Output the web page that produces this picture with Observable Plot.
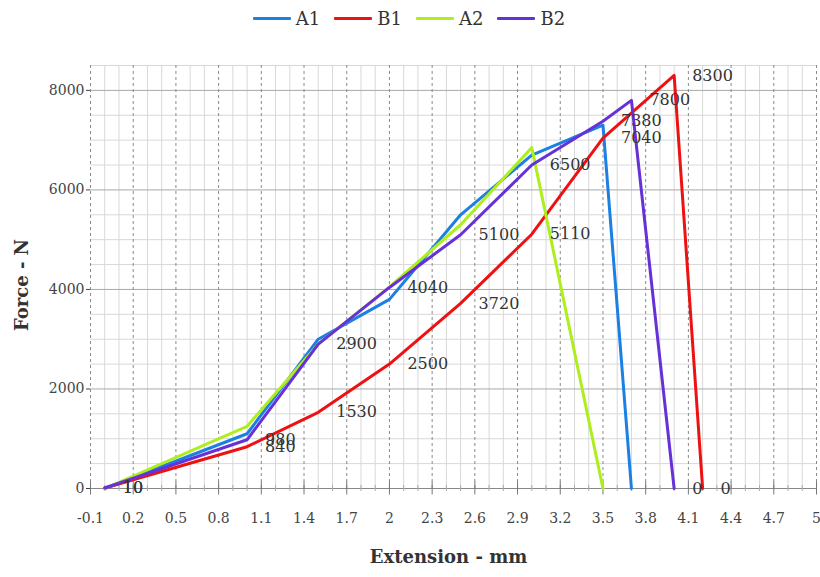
<!DOCTYPE html>
<html><head><meta charset="utf-8">
<script src="https://cdn.jsdelivr.net/npm/d3@7"></script>
<script src="https://cdn.jsdelivr.net/npm/@observablehq/plot@0.6"></script>
<style>
body{margin:0;background:#fff;font-family:"DejaVu Serif",serif;}
#legend{height:40px;display:flex;justify-content:center;align-items:center;padding-left:12px;padding-bottom:4px;box-sizing:border-box;width:820px;}
.item{display:flex;align-items:center;margin-right:14px;font-size:18px;color:#333;}
.sw{width:38px;height:3px;margin-right:5px;border-radius:1px;}
</style></head>
<body>
<div id="legend"></div>
<div id="chart"></div>
<script>
const seriesNames = ["A1","B1","A2","B2"];
const seriesColors = ["#1b7fe4","#ee1111","#aeee1c","#6631d6"];
const a1X = [0, 1.0, 1.5, 2.0, 2.5, 3.0, 3.5, 3.7];
const a1Y = [0, 1100, 3000, 3800, 5500, 6700, 7300, 0];
const b1X = [0, 1.0, 1.5, 2.0, 2.5, 3.0, 3.5, 4.0, 4.2];
const b1Y = [10, 840, 1530, 2500, 3720, 5110, 7040, 8300, 0];
const a2X = [0, 1.0, 1.5, 2.0, 2.5, 3.0, 3.5];
const a2Y = [0, 1250, 2900, 4050, 5300, 6850, 0];
const b2X = [0, 1.0, 1.5, 2.0, 2.5, 3.0, 3.5, 3.7, 4.0];
const b2Y = [10, 980, 2900, 4040, 5100, 6500, 7380, 7800, 0];
const xTicks = [-0.1,0.2,0.5,0.8,1.1,1.4,1.7,2,2.3,2.6,2.9,3.2,3.5,3.8,4.1,4.4,4.7,5];
const xTickLabels = ["-0.1","0.2","0.5","0.8","1.1","1.4","1.7","2","2.3","2.6","2.9","3.2","3.5","3.8","4.1","4.4","4.7","5"];
const yTicks = [0,2000,4000,6000,8000];
const yTickLabels = ["0","2000","4000","6000","8000"];
const labeledSeries = ["B1","B2"];

const xsList = [a1X,b1X,a2X,b2X];
const ysList = [a1Y,b1Y,a2Y,b2Y];
const rows = seriesNames.flatMap((s,k)=>xsList[k].map((x,i)=>({series:s,x,y:ysList[k][i]})));
const labelRows = rows.filter(d=>labeledSeries.includes(d.series));

// legend
const leg = document.getElementById("legend");
seriesNames.forEach((s,i)=>{
  const it=document.createElement("div");it.className="item";
  const sw=document.createElement("div");sw.className="sw";sw.style.background=seriesColors[i];
  const t=document.createElement("span");t.textContent=s;
  it.appendChild(sw);it.appendChild(t);leg.appendChild(it);
});

// grid helpers (style only)
const minorX = d3.range(-1,51).map(v=>v/10).filter(v=>!xTicks.some(t=>Math.abs(t-v)<1e-9));
const minorY = d3.range(0,8501,500).filter(v=>v%2000!==0);

const chart = Plot.plot({
  width:820, height:537,
  marginLeft:90, marginRight:4, marginTop:25, marginBottom:89,
  x:{domain:[-0.1,5.0]},
  y:{domain:[0,8500]},
  color:{domain:seriesNames, range:seriesColors},
  style:{fontFamily:"DejaVu Serif, serif", background:"white", color:"#444"},
  marks:[
    Plot.ruleX(minorX,{stroke:"#d8d8d8", strokeWidth:1}),
    Plot.ruleY(minorY,{stroke:"#d8d8d8", strokeWidth:1}),
    Plot.ruleY(yTicks.filter(v=>v>0),{stroke:"#a8a8a8", strokeWidth:1}),
    Plot.ruleX(xTicks,{stroke:"#8a8a8a", strokeWidth:1, strokeDasharray:"3,3"}),
    Plot.ruleY([0],{stroke:"#888", strokeWidth:1.2}),
    Plot.ruleX(xTicks,{y1:-130, y2:130, stroke:"#777"}),
    Plot.ruleX(minorX,{y1:-60, y2:60, stroke:"#aaa"}),
    Plot.axisX({ticks:xTicks, tickSize:0, tickPadding:25, fontSize:14, label:null,
      tickFormat:d=>xTickLabels[xTicks.indexOf(d)]}),
    Plot.axisY({ticks:yTicks, tickSize:4, tickPadding:2, fontSize:14, label:null,
      tickFormat:d=>yTickLabels[yTicks.indexOf(d)]}),
    Plot.line(rows,{x:"x", y:"y", z:"series", stroke:"series", strokeWidth:3, strokeLinejoin:"round"}),
    Plot.text(labelRows,{x:"x", y:"y", text:d=>String(d.y), dx:18, textAnchor:"start", fontSize:16, fill:"#333"}),
    Plot.text(["Extension - mm"],{frameAnchor:"bottom", dy:69, dx:-5, lineAnchor:"middle", textAnchor:"middle", fontSize:18, fontWeight:"bold", fill:"#333"}),
    Plot.text(["Force - N"],{frameAnchor:"left", dx:-68, dy:8, rotate:-90, textAnchor:"middle", lineAnchor:"middle", fontSize:18, fontWeight:"bold", fill:"#333"})
  ]
});
document.getElementById("chart").appendChild(chart);
</script>
</body></html>
